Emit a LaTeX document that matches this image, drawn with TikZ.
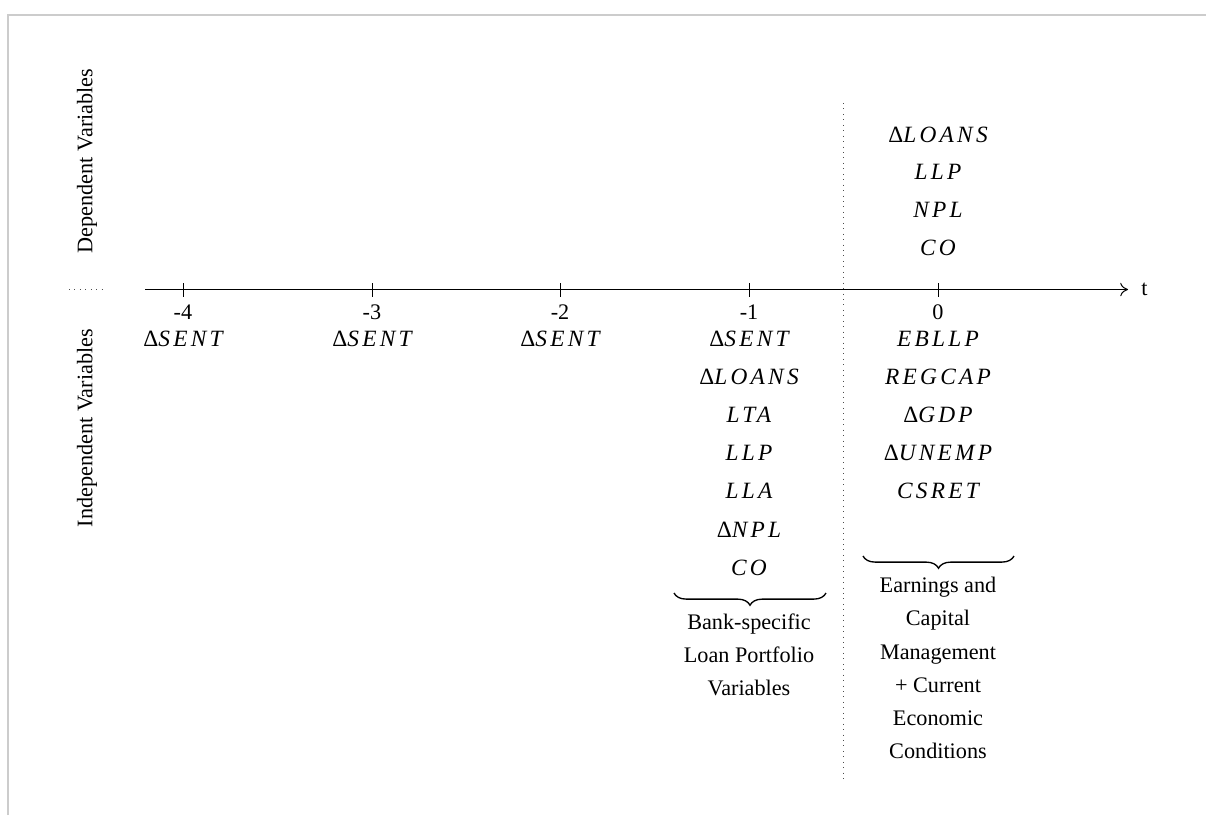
\documentclass[tikz,border=0pt]{standalone}
\usepackage{fontspec}
\setmainfont{Liberation Serif}
\usetikzlibrary{decorations.pathreplacing,arrows.meta}
\newcommand\mvar[1]{{\fontsize{10.5}{12}\selectfont\addfontfeature{LetterSpace=14}\itshape #1}}
\newcommand\dmv[1]{{\fontsize{10.5}{12}\selectfont\textup{Δ}\mvar{#1}}}
\tikzset{
  lbl/.style={anchor=base,inner sep=0pt,font=\fontsize{10}{12}\selectfont},
  tick/.style={draw=black,line width=0.45pt},
  sep/.style={draw=black!70,dotted,line width=0.45pt},
  brc/.style={decorate,decoration={brace,mirror,amplitude=5.5pt},line width=0.6pt},
  note/.style={align=center,inner sep=0pt,font=\fontsize{10}{14.9}\selectfont},
}
\begin{document}
\begin{tikzpicture}[x=0.45pt,y=-0.45pt]
\useasboundingbox (0,0) rectangle (1206,815);
% frame
\draw[black!20,line width=0.7pt] (8,815) -- (8,15) -- (1206,15);
% axis
\coordinate (a0) at (145,289.5);
\coordinate (a1) at (1128,289.5);
\draw[-{To[length=3.5pt,width=6pt]},line width=0.45pt] (a0) -- (a1);
\node[lbl,anchor=west] (t) at (1141,289.5) {t};
\coordinate (ds0) at (69,289.5);
\coordinate (ds1) at (107,289.5);
\draw[sep] (ds0) -- (ds1);
% vertical separator
\coordinate (v0) at (843.5,103);
\coordinate (v1) at (843.5,782);
\draw[sep] (v0) -- (v1);
% ticks and labels
\foreach \v/\x in {-4/183,-3/372,-2/560,-1/749,0/938}{
  \coordinate (tk\v a) at (\x,283);
  \coordinate (tk\v b) at (\x,297);
  \draw[tick] (tk\v a) -- (tk\v b);
  \node[lbl] (n\v) at (\x,319) {\v};
}
% lagged sentiment
\node[lbl] (s4) at (183,346) {\dmv{SENT}};
\node[lbl] (s3) at (372,346) {\dmv{SENT}};
\node[lbl] (s2) at (560,346) {\dmv{SENT}};
% column -1
\node[lbl] (m1) at (749,346) {\dmv{SENT}};
\node[lbl] (m2) at (749,384.2) {\dmv{LOANS}};
\node[lbl] (m3) at (749,422.4) {\mvar{LTA}};
\node[lbl] (m4) at (749,460.6) {\mvar{LLP}};
\node[lbl] (m5) at (749,498.8) {\mvar{LLA}};
\node[lbl] (m6) at (749,537) {\dmv{NPL}};
\node[lbl] (m7) at (749,575.2) {\mvar{CO}};
% column 0 independent
\node[lbl] (z1) at (938,346) {\mvar{EBLLP}};
\node[lbl] (z2) at (938,384.2) {\mvar{REGCAP}};
\node[lbl] (z3) at (938,422.4) {\dmv{GDP}};
\node[lbl] (z4) at (938,460.6) {\dmv{UNEMP}};
\node[lbl] (z5) at (938,498.8) {\mvar{CSRET}};
% dependent
\node[lbl] (d1) at (938,142) {\dmv{LOANS}};
\node[lbl] (d2) at (938,179.7) {\mvar{LLP}};
\node[lbl] (d3) at (938,217.4) {\mvar{NPL}};
\node[lbl] (d4) at (938,255.1) {\mvar{CO}};
% braces
\coordinate (b1a) at (674,593);
\coordinate (b1b) at (826,593);
\draw[brc] (b1a) -- (b1b);
\coordinate (b2a) at (863,556);
\coordinate (b2b) at (1014,556);
\draw[brc] (b2a) -- (b2b);
\node[note] (g1) at (749,655) {Bank-specific\\Loan Portfolio\\Variables};
\node[note] (g2) at (938,668) {Earnings and\\Capital\\Management\\+ Current\\Economic\\Conditions};
% side labels
\node[rotate=90,inner sep=0pt,font=\fontsize{10}{12}\selectfont] (dep) at (87,161) {Dependent Variables};
\node[rotate=90,inner sep=0pt,font=\fontsize{10}{12}\selectfont] (ind) at (87,428) {Independent Variables};
\end{tikzpicture}
\end{document}
